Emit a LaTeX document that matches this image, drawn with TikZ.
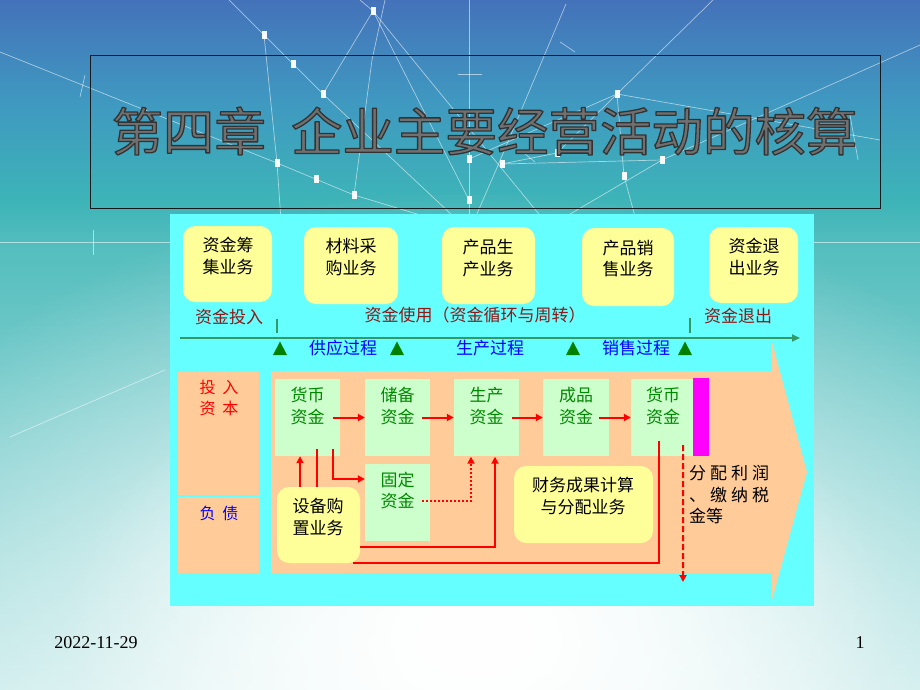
\documentclass[tikz,border=0pt]{standalone}
\usepackage{fontspec}
\setmainfont{Liberation Serif}
\newfontfamily\cjk{Noto Sans CJK SC}
\usetikzlibrary{arrows.meta,fadings}
\definecolor{bgA}{HTML}{4472BA}
\definecolor{bgB}{HTML}{3F98C0}
\definecolor{bgC}{HTML}{3DB4B8}
\definecolor{bgD}{HTML}{55BEBE}
\definecolor{bgE}{HTML}{C5E9E9}
\definecolor{cyanp}{HTML}{66FFFF}
\definecolor{peach}{HTML}{FFCC99}
\definecolor{lgreen}{HTML}{CCFFCC}
\definecolor{ylw}{HTML}{FFFF99}
\definecolor{mag}{HTML}{FF00FF}
\definecolor{gtext}{HTML}{008800}
\definecolor{dred}{HTML}{8B1A1A}
\definecolor{axisg}{HTML}{339966}
\definecolor{trig}{HTML}{008000}
\definecolor{titlegray}{HTML}{707070}
\pgfdeclareverticalshading{bgshade}{100bp}{color(0bp)=(bgE); color(25bp)=(bgE); color(57bp)=(bgD); color(60.5bp)=(bgC); color(67.75bp)=(bgB); color(75bp)=(bgA); color(100bp)=(bgA)}
\tikzfading[name=glowfade, inner color=transparent!0, outer color=transparent!100]
\newcommand{\outlineon}{\special{pdf:literal 0.2 0.2 0.2 RG 1.3 w 1 j 2 Tr}}
\newcommand{\outlineoff}{\special{pdf:literal 0 Tr}}
\tikzset{
  ybox/.style={fill=ylw, rounded corners=12pt, inner sep=0pt},
  gbox/.style={fill=lgreen, inner sep=0pt},
  pbox/.style={fill=peach, inner sep=0pt},
  blacktxt/.style={font=\cjk\fontsize{17}{21.5}\selectfont, align=center, inner sep=0pt, text=black},
  greentxt/.style={font=\cjk\fontsize{17}{21.5}\selectfont, align=center, inner sep=0pt, text=gtext},
  redlbl/.style={font=\cjk\fontsize{17}{20}\selectfont, inner sep=0pt, text=dred},
  bluelbl/.style={font=\cjk\fontsize{17}{20}\selectfont, inner sep=0pt, text=blue},
  ra/.style={draw=red, line width=2pt, -{Triangle[length=7pt,width=7pt]}},
  rl/.style={draw=red, line width=2pt},
  netline/.style={draw=white, line width=0.7pt, opacity=0.55},
  netsq/.style={fill=white, opacity=0.95},
}
\begin{document}
\begin{tikzpicture}[x=1pt,y=-1pt]
\useasboundingbox (0,0) rectangle (920,690);
% background
\shade[shading=bgshade] (0,0) rectangle (920,690);
\fill[white, path fading=glowfade] (470,640) ellipse [x radius=650pt, y radius=450pt];
\fill[white, path fading=glowfade] (480,630) ellipse [x radius=420pt, y radius=280pt];
% network decoration
\begin{scope}
\clip (0,0) rectangle (920,690);
\draw[netline] (229,0) -- (264,35) -- (293,64) -- (323,94) -- (470,232);
\draw[netline] (360,0) -- (373,11) -- (323,94);
\draw[netline] (373,11) -- (469,200);
\draw[netline] (373,11) -- (556,235);
\draw[netline] (385,0) -- (372,60) -- (354,195);
\draw[netline] (264,35) -- (277,163) -- (282,235);
\draw[netline] (0,52) -- (277,163) -- (354,195) -- (470,230);
\draw[netline] (469,0) -- (469,235);
\draw[netline] (566,4) -- (499,163) -- (470,230);
\draw[netline] (713,0) -- (617,94) -- (469,159);
\draw[netline] (617,94) -- (557,153) -- (502,164);
\draw[netline] (920,45) -- (662,160) -- (560,220);
\draw[netline] (617,94) -- (624,176) -- (640,235);
\draw[netline] (662,160) -- (502,164);
\draw[netline] (617,94) -- (880,140);
\draw[netline] (0,242) -- (170,242);
\draw[netline] (814,242) -- (920,242);
\draw[netline] (10,437) -- (165,370);
\draw[netline] (93,230) -- (93,255);
\draw[netline] (240,228) -- (240,256);
\draw[netline] (560,42) -- (575,52);
\draw[netline] (520,150) -- (535,162);
\draw[netline] (850,115) -- (858,160);
\draw[netline] (458,74) -- (482,74);
\draw[netline] (85,75) -- (80,97);
\foreach \p in {(373,11),(264,35),(293,64),(323,94),(617,94),(277,163),(316,179),(354,195),(469,200),(469,159),(502,164),(557,153),(624,176),(662,160)}
  \fill[netsq] \p ++(-2.5,-4) rectangle ++(5,8);
\end{scope}
% title
\node[draw=black!90, line width=0.8pt, minimum width=790pt, minimum height=153pt, inner sep=0pt] (tbox) at (485,131.5) {};
\node[font=\cjk\fontsize{51.5}{52}\selectfont, text=titlegray, inner sep=0pt] (title) at (484.5,131)
  {\outlineon 第四章\hspace{25pt}企业主要经营活动的核算\outlineoff};
% cyan panel
\node[fill=cyanp, minimum width=644pt, minimum height=392pt, inner sep=0pt] (panel) at (492,410) {};
% top business boxes
\node[ybox, minimum width=89pt, minimum height=76pt] (b1) at (227.5,264) {};
\node[ybox, minimum width=94pt, minimum height=77pt] (b2) at (351,265.5) {};
\node[ybox, minimum width=93pt, minimum height=77pt] (b3) at (488.5,265.5) {};
\node[ybox, minimum width=92pt, minimum height=78pt] (b4) at (628,267) {};
\node[ybox, minimum width=89pt, minimum height=76pt] (b5) at (753.5,265) {};
\node[blacktxt] (b1t) at (228,256) {资金筹\\集业务};
\node[blacktxt] (b2t) at (351,257) {材料采\\购业务};
\node[blacktxt] (b3t) at (488,258) {产品生\\产业务};
\node[blacktxt] (b4t) at (628,258.5) {产品销\\售业务};
\node[blacktxt] (b5t) at (754,257) {资金退\\出业务};
% stage labels
\node[redlbl] (l1) at (229,317) {资金投入};
\node[redlbl] (l2) at (475,315) {资金使用（资金循环与周转）};
\node[redlbl] (l3) at (738,316) {资金退出};
\draw[axisg, line width=2pt] (276.5,319) -- (276.5,333);
\draw[axisg, line width=2pt] (690,318) -- (690,333);
\coordinate (axs) at (180,338);
\coordinate (axe) at (800,338);
\draw[axisg, line width=1.8pt, -{Triangle[length=8pt,width=7pt]}] (axs) -- (axe);
\foreach \x in {280,397,573,685}
  \fill[trig] (\x-7,355) -- (\x+7,355) -- (\x,341.5) -- cycle;
\node[bluelbl] (p1) at (343,348) {供应过程};
\node[bluelbl] (p2) at (490,348) {生产过程};
\node[bluelbl] (p3) at (636,348) {销售过程};
% left column
\node[pbox, minimum width=81pt, minimum height=123pt] (L1) at (218.5,433.5) {};
\node[pbox, minimum width=81pt, minimum height=76pt] (L2) at (218.5,535) {};
\node[font=\cjk\fontsize{16}{21}\selectfont, text=red, align=center, inner sep=0pt] (L1t) at (219,397.5) {投\hspace{7pt}入\\资\hspace{7pt}本};
\node[font=\cjk\fontsize{16}{21}\selectfont, text=blue, inner sep=0pt] (L2t) at (219,513) {负\hspace{7pt}债};
% big arrow
\fill[peach] (271,371) -- (772,371) -- (772,342) -- (807,472) -- (772,600) -- (772,573) -- (271,573) -- cycle;
% fund boxes
\node[gbox, minimum width=65pt, minimum height=77pt] (m1) at (307.5,417.5) {};
\node[gbox, minimum width=65pt, minimum height=77pt] (m2) at (397.5,417.5) {};
\node[gbox, minimum width=65pt, minimum height=77pt] (fx) at (397.5,502.5) {};
\node[gbox, minimum width=65pt, minimum height=77pt] (m3) at (486.5,417.5) {};
\node[gbox, minimum width=66pt, minimum height=77pt] (m4) at (576,417.5) {};
\node[gbox, minimum width=62pt, minimum height=77pt] (m5) at (662,417.5) {};
\node[fill=mag, minimum width=16pt, minimum height=78pt, inner sep=0pt] (mg) at (701,417) {};
\node[greentxt] (m1t) at (307.5,406) {货币\\资金};
\node[greentxt] (m2t) at (397.5,406) {储备\\资金};
\node[greentxt] (fxt) at (397.5,490.5) {固定\\资金};
\node[greentxt] (m3t) at (486.5,406) {生产\\资金};
\node[greentxt] (m4t) at (576,406) {成品\\资金};
\node[greentxt] (m5t) at (663,406) {货币\\资金};
% lower business boxes
\node[ybox, minimum width=83pt, minimum height=76pt] (s) at (318.5,525) {};
\node[blacktxt] (st) at (318,517) {设备购\\置业务};
\node[ybox, minimum width=139pt, minimum height=77pt] (cb) at (583.5,504.5) {};
\node[blacktxt] (cbt) at (583,496) {财务成果计算\\与分配业务};
% distribution text
\node[font=\cjk\fontsize{17}{20}\selectfont, anchor=west, inner sep=0pt] (d1) at (689,473) {分\hspace{4pt}配\hspace{4pt}利\hspace{4pt}润};
\node[font=\cjk\fontsize{17}{20}\selectfont, anchor=west, inner sep=0pt] (d2) at (689,495) {、\hspace{4pt}缴\hspace{4pt}纳\hspace{4pt}税};
\node[font=\cjk\fontsize{17}{20}\selectfont, anchor=west, inner sep=0pt] (d3) at (689,516) {金等};
% flow arrows
\draw[ra] ([shift={(-7,0)}]m1.east) -- (m2.west);
\draw[ra] ([shift={(-8,0)}]m2.east) -- (m3.west);
\draw[ra] ([shift={(-7,0)}]m3.east) -- (m4.west);
\draw[ra] ([shift={(-10,0)}]m4.east) -- (m5.west);
\draw[ra] ([shift={(-7,-7)}]m1.south east) |- ([shift={(0,-23.5)}]fx.west);
\draw[ra] ([shift={(-18.5,0)}]s.north) -- ([shift={(-7.5,0)}]m1.south);
\draw[rl] ([shift={(9.5,-7)}]m1.south) -- ([shift={(-1.5,0)}]s.north);
\draw[ra, dotted] ([shift={(-8,-1.5)}]fx.east) -| ([shift={(-15.5,0.5)}]m3.south);
\draw[ra] ([shift={(0,22)}]s.east) -| ([shift={(8.5,0.5)}]m3.south);
\draw[rl] ([shift={(-3,-15)}]m5.south) |- ([shift={(34.5,0)}]s.south);
\coordinate (dend) at (683,582);
\draw[ra, dash pattern=on 6pt off 3pt] ([shift={(-10,-11)}]m5.south east) -- (dend);
% footer
\node[font=\fontsize{18}{18}\selectfont, inner sep=0pt] (date) at (96,643) {2022-11-29};
\node[font=\fontsize{18}{18}\selectfont, inner sep=0pt] (pg) at (860,643) {1};
\end{tikzpicture}
\end{document}
